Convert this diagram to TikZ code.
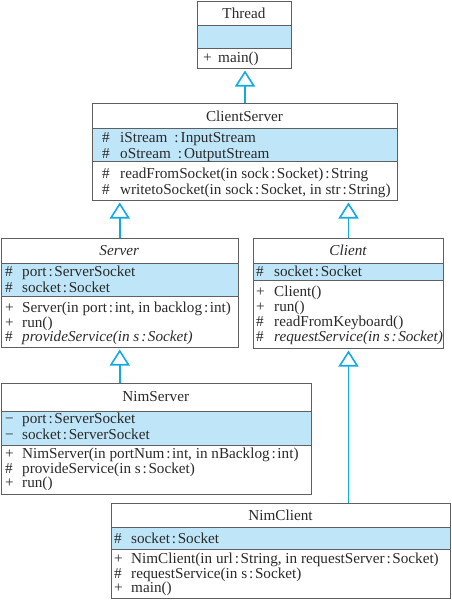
\documentclass[tikz,border=0pt]{standalone}
\usepackage{fontspec}
\setmainfont{Liberation Serif}
\usetikzlibrary{arrows.meta}
\definecolor{attrfill}{HTML}{BFE6F8}
\definecolor{inhcol}{HTML}{12AAE3}
\definecolor{boxcol}{HTML}{5F5F5F}
\definecolor{txtcol}{HTML}{2A2A2A}
\newcommand\umlcolon{\hspace{1.9pt}:\hspace{1.6pt}}
\newcommand\umlrow[6]{%
  \node[umlsym] (#1s) at (#2,#4) {#5};
  \node[umltxt] (#1) at (#3,#4) {#6};}
\begin{document}
\begin{tikzpicture}[x=1pt,y=-1pt,
  umlbox/.style={draw=boxcol, line width=1pt, rectangle, inner sep=0pt, anchor=north west},
  sepline/.style={draw=boxcol, line width=1pt},
  umltxt/.style={anchor=base west, inner sep=0pt, text=txtcol, font=\fontsize{15.2}{16}\selectfont},
  umlsym/.style={umltxt},
  umltitle/.style={anchor=base, inner sep=0pt, text=txtcol, font=\fontsize{15.2}{16}\selectfont},
  inh/.style={draw=inhcol, line width=1.6pt, shorten >=1.5pt,
    -{Triangle[open, width=20pt, length=16pt, line width=1.6pt]}}]
\useasboundingbox (0,0) rectangle (452,600);

% ---------- Thread
\fill[attrfill] (197,25) rectangle (291,48);
\node[umlbox, minimum width=94pt, minimum height=67.5pt] (Thread) at (197,0.5) {};
\draw[sepline] (197,25) -- (291,25) (197,48) -- (291,48);
\node[umltitle] (tThread) at (244,18) {Thread};
\umlrow{thA}{203}{218}{62}{+}{main()}

% ---------- ClientServer
\fill[attrfill] (92,128) rectangle (397,161);
\node[umlbox, minimum width=305pt, minimum height=97pt] (ClientServer) at (92,103) {};
\draw[sepline] (92,128) -- (397,128) (92,161) -- (397,161);
\node[umltitle] (tClientServer) at (244.5,121) {ClientServer};
\umlrow{csA}{102}{120}{142.7}{\#}{iStream\hspace{7pt}:\hspace{2pt}InputStream}
\umlrow{csB}{102}{120}{158.7}{\#}{oStream\hspace{7pt}:\hspace{2pt}OutputStream}
\umlrow{csC}{102}{120}{178.3}{\#}{readFromSocket(in sock\umlcolon Socket)\umlcolon String}
\umlrow{csD}{102}{120}{194.3}{\#}{writetoSocket(in sock\umlcolon Socket, in str\umlcolon String)}

% ---------- Server
\fill[attrfill] (0.5,263) rectangle (238,296);
\node[umlbox, minimum width=237.5pt, minimum height=109pt] (Server) at (0.5,238) {};
\draw[sepline] (0.5,263) -- (238,263) (0.5,296) -- (238,296);
\node[umltitle] (tServer) at (119.25,255) {\itshape Server};
\umlrow{sA}{5}{22}{276.7}{\#}{port\umlcolon ServerSocket}
\umlrow{sB}{5}{22}{292.7}{\#}{socket\umlcolon Socket}
\umlrow{sC}{5}{22}{312.5}{+}{Server(in port\umlcolon int, in backlog\umlcolon int)}
\umlrow{sD}{5}{22}{327}{+}{run()}
\umlrow{sE}{5}{22}{341.5}{\#}{\itshape provideService(in s\umlcolon Socket)}

% ---------- Client
\fill[attrfill] (253,263) rectangle (443,280);
\node[umlbox, minimum width=190pt, minimum height=110pt] (Client) at (253,238) {};
\draw[sepline] (253,263) -- (443,263) (253,280) -- (443,280);
\node[umltitle] (tClient) at (348,255) {\itshape Client};
\umlrow{cA}{256}{274}{276.5}{\#}{socket\umlcolon Socket}
\umlrow{cB}{256}{274}{296.5}{+}{Client()}
\umlrow{cC}{256}{274}{311.5}{+}{run()}
\umlrow{cD}{256}{274}{326.5}{\#}{readFromKeyboard()}
\umlrow{cE}{256}{274}{341}{\#}{\itshape requestService(in s\umlcolon Socket)}

% ---------- NimServer
\fill[attrfill] (0.5,411) rectangle (311,445);
\node[umlbox, minimum width=310.5pt, minimum height=111pt] (NimServer) at (0.5,383) {};
\draw[sepline] (0.5,411) -- (311,411) (0.5,445) -- (311,445);
\node[umltitle] (tNimServer) at (155.75,401.5) {NimServer};
\umlrow{nsA}{5}{22}{423.3}{−}{port\umlcolon ServerSocket}
\umlrow{nsB}{5}{22}{439}{−}{socket\umlcolon ServerSocket}
\umlrow{nsC}{5}{22}{458}{+}{NimServer(in portNum\umlcolon int, in nBacklog\umlcolon int)}
\umlrow{nsD}{5}{22}{473}{\#}{provideService(in s\umlcolon Socket)}
\umlrow{nsE}{5}{22}{487.5}{+}{run()}

% ---------- NimClient
\fill[attrfill] (111,527) rectangle (450,549);
\node[umlbox, minimum width=339pt, minimum height=95pt] (NimClient) at (111,503) {};
\draw[sepline] (111,527) -- (450,527) (111,549) -- (450,549);
\node[umltitle] (tNimClient) at (280.5,520.5) {NimClient};
\umlrow{ncA}{114}{131}{543}{\#}{socket\umlcolon Socket}
\umlrow{ncB}{114}{131}{563.5}{+}{NimClient(in url\umlcolon String, in requestServer\umlcolon Socket)}
\umlrow{ncC}{114}{131}{578}{\#}{requestService(in s\umlcolon Socket)}
\umlrow{ncD}{114}{131}{592.5}{+}{main()}

% ---------- inheritance
\draw[inh] (ClientServer.north) -- (ClientServer.north |- Thread.south);
\draw[inh] (Server.north) -- (Server.north |- ClientServer.south);
\draw[inh] (Client.north) -- (Client.north |- ClientServer.south);
\draw[inh] (Server.south |- NimServer.north) -- (Server.south);
\draw[inh] (Client.south |- NimClient.north) -- (Client.south);
\end{tikzpicture}
\end{document}
